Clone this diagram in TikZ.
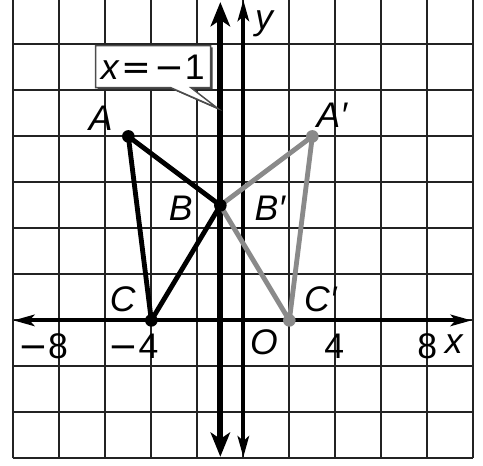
\documentclass[tikz,border=0pt]{standalone}
\usepackage{fontspec}
\setmainfont{Liberation Sans}
\newfontfamily\symfont{DejaVu Sans}
\usetikzlibrary{arrows.meta}
\definecolor{primegray}{RGB}{138,138,138}
\definecolor{gridline}{RGB}{35,35,35}
\begin{document}
\begin{tikzpicture}[x=0.5cm,y=0.5cm,
  lbl/.style={font=\fontsize{22}{24}\selectfont\itshape, inner sep=0pt},
  num/.style={font=\fontsize{22}{24}\selectfont, inner sep=0pt},
  axisline/.style={line width=2.6pt, {Stealth[length=13pt,width=7pt,inset=3pt]}-{Stealth[length=13pt,width=7pt,inset=3pt]}},
  mirrorline/.style={line width=3.8pt, {Stealth[length=15pt,width=12pt,inset=4pt]}-{Stealth[length=15pt,width=12pt,inset=4pt]}},
  origtri/.style={line width=3pt, black, line join=round},
  imgtri/.style={line width=3pt, primegray, line join=round},
  origdot/.style={fill=black},
  imgdot/.style={fill=primegray}]
\useasboundingbox (-10.58,-6.33) rectangle (10.42,13.93);
% grid
\draw[gridline, line width=1.2pt, step=2] (-10,-6) grid (10,13.93);
% end points of lines
\coordinate (mtop) at (-1,13.84);
\coordinate (mbot) at (-1,-5.93);
\coordinate (ytop) at (0,13.93);
\coordinate (ybot) at (0,-5.95);
\coordinate (xl) at (-10,0);
\coordinate (xr) at (9.93,0);
% mirror line and axes
\draw[mirrorline] (mbot) -- (mtop);
\draw[axisline] (ybot) -- (ytop);
\draw[axisline] (xl) -- (xr);
% vertices
\coordinate (A) at (-5,8);
\coordinate (B) at (-1,5);
\coordinate (C) at (-4,0);
\coordinate (A') at (3,8);
\coordinate (B') at (-1,5);
\coordinate (C') at (2,0);
% triangles
\draw[imgtri] (A') -- (B') -- (C') -- cycle;
\draw[origtri] (A) -- (B) -- (C) -- cycle;
\fill[imgdot] (A') circle[radius=3.9pt];
\fill[imgdot] (C') circle[radius=3.9pt];
\fill[origdot] (A) circle[radius=3.9pt];
\fill[origdot] (B) circle[radius=3.9pt];
\fill[origdot] (C) circle[radius=3.9pt];
% callout
\fill[black!75, shift={(0.08,-0.08)}] (-6.42,10.12) -- (-3.16,10.12) -- (-1.13,9.23) -- (-2.28,10.12) -- (-1.42,10.12) -- (-1.42,11.95) -- (-6.42,11.95) -- cycle;
\filldraw[fill=white, draw=black!70, line width=0.9pt, line join=miter] (-6.42,10.12) -- (-3.16,10.12) -- (-1.13,9.23) -- (-2.28,10.12) -- (-1.42,10.12) -- (-1.42,11.95) -- (-6.42,11.95) -- cycle;
\node[num] (eq) at (-3.94,11.02) {\itshape x\upshape\hspace{2pt}{\symfont =}\hspace{2pt}{\symfont −}1};
% labels
\node[lbl] (lA) at (-6.2,8.8) {A};
\node[lbl] (lA') at (3.85,8.9) {A′};
\node[lbl] (lB) at (-2.72,4.88) {B};
\node[lbl] (lB') at (1.15,4.88) {B′};
\node[lbl] (lC) at (-5.24,0.9) {C};
\node[lbl] (lC') at (3.35,0.9) {C′};
\node[lbl] (ly) at (0.9,12.9) {y};
\node[lbl] (lx) at (9.15,-1.05) {x};
\node[lbl] (lO) at (0.9,-0.95) {O};
\node[num] (n8m) at (-8.7,-1.12) {{\symfont −}8};
\node[num] (n4m) at (-4.77,-1.12) {{\symfont −}4};
\node[num] (n4) at (3.95,-1.12) {4};
\node[num] (n8) at (8.0,-1.12) {8};
\end{tikzpicture}
\end{document}
